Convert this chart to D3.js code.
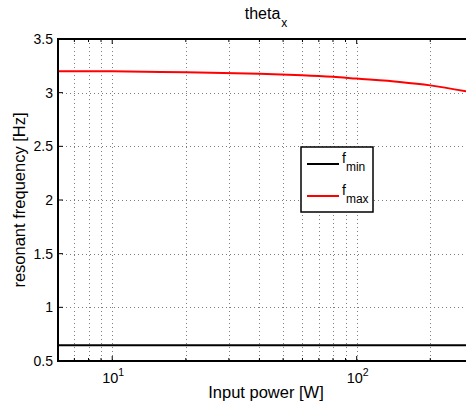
<!DOCTYPE html>
<html>
<head>
<meta charset="utf-8">
<script src="https://cdn.jsdelivr.net/npm/d3@7"></script>
<style>
  body { margin: 0; background: #fff; }
  text { font-family: "Liberation Sans", Arial, sans-serif; fill: #000; }
</style>
</head>
<body>
<div id="chart"></div>
<script>
// data
const power = [6, 10, 20, 40, 60, 80, 100, 150, 200, 280];
const fMax = [3.20, 3.199, 3.19, 3.177, 3.163, 3.148, 3.131, 3.100, 3.068, 3.012];
const fMin = [0.646, 0.646, 0.646, 0.646, 0.646, 0.646, 0.646, 0.646, 0.646, 0.646];
const yTicks = [0.5, 1, 1.5, 2, 2.5, 3, 3.5];
const xMajor = [10, 100];
const xMinor = [7, 8, 9, 20, 30, 40, 50, 60, 70, 80, 90, 200];
const series = [
  { name: 'min', values: fMin, color: '#000' },
  { name: 'max', values: fMax, color: '#ff0000' },
];

const width = 466;
const height = 408;
const margin = { top: 39, right: 0, bottom: 47, left: 58 };

const svg = d3.select('#chart')
  .append('svg')
  .attr('width', width)
  .attr('height', height);

const x = d3.scaleLog().domain([6, 280]).range([margin.left, width - margin.right]);
const y = d3.scaleLinear().domain([0.5, 3.5]).range([height - margin.bottom, margin.top]);

const x0 = margin.left;
const x1 = width - margin.right;
const y0 = height - margin.bottom;
const y1 = margin.top;

// grid
const grid = svg.append('g')
  .attr('stroke', '#000')
  .attr('stroke-width', 1)
  .attr('stroke-dasharray', '1,3')
  .attr('opacity', 0.5);
grid.selectAll('line.hg')
  .data(yTicks.slice(1, -1))
  .enter()
  .append('line')
  .attr('x1', x0).attr('x2', x1)
  .attr('y1', (d) => Math.round(y(d)) + 0.5)
  .attr('y2', (d) => Math.round(y(d)) + 0.5);
grid.selectAll('line.vg')
  .data(xMajor.concat(xMinor))
  .enter()
  .append('line')
  .attr('y1', y1).attr('y2', y0)
  .attr('x1', (d) => Math.round(x(d)) + 0.5)
  .attr('x2', (d) => Math.round(x(d)) + 0.5);

// ticks (inward, MATLAB style)
const ticks = svg.append('g').attr('stroke', '#000').attr('stroke-width', 1);
yTicks.forEach((d) => {
  ticks.append('line').attr('x1', x0).attr('x2', x0 + 5).attr('y1', y(d)).attr('y2', y(d));
});
xMajor.forEach((d) => {
  ticks.append('line').attr('x1', x(d)).attr('x2', x(d)).attr('y1', y0).attr('y2', y0 - 5);
  ticks.append('line').attr('x1', x(d)).attr('x2', x(d)).attr('y1', y1).attr('y2', y1 + 5);
});
xMinor.forEach((d) => {
  ticks.append('line').attr('x1', x(d)).attr('x2', x(d)).attr('y1', y0).attr('y2', y0 - 3);
  ticks.append('line').attr('x1', x(d)).attr('x2', x(d)).attr('y1', y1).attr('y2', y1 + 3);
});

// data lines
const line = d3.line()
  .x((d, i) => x(power[i]))
  .y((d) => y(d))
  .curve(d3.curveCatmullRom);
svg.selectAll('path.series')
  .data(series)
  .enter()
  .append('path')
  .attr('class', 'series')
  .attr('fill', 'none')
  .attr('stroke', (d) => d.color)
  .attr('stroke-width', 2)
  .attr('d', (d) => line(d.values));

// frame
svg.append('path')
  .attr('fill', 'none')
  .attr('stroke', '#000')
  .attr('stroke-width', 2)
  .attr('d', `M${x1 + 2},${y1}H${x0}V${y0}H${x1 + 2}`);

// y tick labels
svg.selectAll('text.yt')
  .data(yTicks)
  .enter()
  .append('text')
  .attr('x', x0 - 5)
  .attr('y', (d) => y(d) + 5)
  .attr('text-anchor', 'end')
  .attr('font-size', 14)
  .text((d) => d);

// x tick labels 10^n
xMajor.forEach((d) => {
  const t = svg.append('text')
    .attr('x', x(d) - 10)
    .attr('y', y0 + 22)
    .attr('font-size', 14.5);
  t.append('tspan').text('10');
  t.append('tspan').attr('dy', -7).attr('font-size', 10.5).text(Math.round(Math.log10(d)));
});

// title
const title = svg.append('text')
  .attr('x', 266)
  .attr('y', 19)
  .attr('text-anchor', 'middle')
  .attr('font-size', 16);
title.append('tspan').text('theta');
title.append('tspan').attr('dx', 1).attr('dy', 8).attr('font-size', 12).text('x');

svg.append('text')
  .attr('x', 266)
  .attr('y', 398)
  .attr('text-anchor', 'middle')
  .attr('font-size', 16.5)
  .text('Input power [W]');

svg.append('text')
  .attr('transform', `translate(25,${(y0 + y1) / 2}) rotate(-90)`)
  .attr('text-anchor', 'middle')
  .attr('font-size', 16.5)
  .text('resonant frequency [Hz]');

// legend
const legend = svg.append('g').attr('transform', 'translate(301,147)');
legend.append('rect')
  .attr('width', 72)
  .attr('height', 65)
  .attr('fill', '#fff')
  .attr('stroke', '#000')
  .attr('stroke-width', 1.5);
series.forEach((s, i) => {
  const ly = 17 + i * 32;
  legend.append('line')
    .attr('x1', 6).attr('x2', 38)
    .attr('y1', ly).attr('y2', ly)
    .attr('stroke', s.color)
    .attr('stroke-width', 2);
  const t = legend.append('text')
    .attr('x', 41)
    .attr('y', ly - 1)
    .attr('font-size', 14);
  t.append('tspan').text('f');
  t.append('tspan').attr('dy', 8).attr('font-size', 12).text(s.name);
});
</script>
</body>
</html>
